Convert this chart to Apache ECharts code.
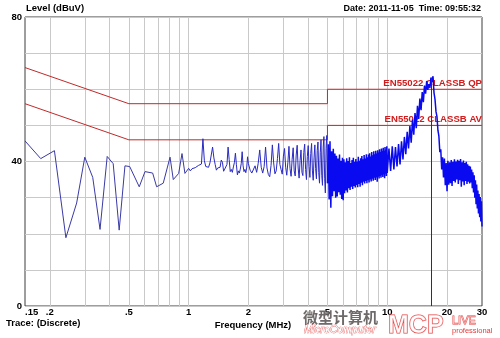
<!DOCTYPE html>
<html>
<head>
<meta charset="utf-8">
<script src="https://cdn.jsdelivr.net/npm/echarts@6/dist/echarts.min.js"></script>
<style>
html,body{margin:0;padding:0;background:#fff}
#chart{width:500px;height:338px}
</style>
</head>
<body>
<div id="chart"></div>
<script>
const FONT = '"Liberation Sans", Arial, Helvetica, sans-serif';

// Receiver sweep, one array per band: [frequency MHz, level dBuV]
const sweepLow = [
  [0.150,45.7],[0.180,40.8],[0.211,43.0],[0.241,18.9],[0.273,28.5],[0.300,41.2],
  [0.329,35.6],[0.358,21.2],[0.389,41.4],[0.417,39.4],[0.447,21.0],[0.478,38.8],
  [0.505,38.6],[0.564,33.0],[0.603,37.2],[0.659,36.8],[0.690,33.0],[0.745,34.0],
  [0.806,41.2],[0.837,35.0],[0.891,36.7],[0.926,42.2],[0.958,36.7],[1.000,38.1]
];

const sweepMid = [
  [1.00,38.1],[1.02,37.4],[1.04,38.0],[1.06,37.6],[1.08,38.3],[1.10,38.6],[1.12,38.9],
  [1.14,39.0],[1.16,39.3],[1.18,46.3],[1.20,40.2],[1.22,38.6],[1.24,38.9],[1.26,38.4],
  [1.28,39.6],[1.30,41.8],[1.32,44.0],[1.34,41.0],[1.36,39.2],[1.38,37.6],[1.40,38.2],
  [1.42,37.8],[1.44,38.4],[1.46,40.4],[1.48,39.8],[1.50,37.3],[1.52,37.9],[1.54,37.5],
  [1.56,39.2],[1.58,44.0],[1.60,40.5],[1.62,37.2],[1.64,37.8],[1.66,37.0],[1.68,38.5],
  [1.70,39.7],[1.72,42.3],[1.74,39.1],[1.76,36.3],[1.78,37.4],[1.80,36.8],[1.82,37.9],
  [1.84,39.4],[1.86,42.7],[1.88,38.8],[1.90,37.2],[1.92,37.8],[1.94,36.9],[1.96,38.2],
  [1.98,41.3],[2.00,39.4],
  [2.04,37.6],[2.08,36.8],[2.12,37.2],[2.16,38.8],[2.20,37.0],[2.24,39.5],[2.28,43.2],
  [2.32,38.4],[2.36,36.8],[2.40,38.6],[2.44,44.0],[2.48,38.2],[2.52,36.4],[2.56,35.8],
  [2.60,38.9],[2.64,44.6],[2.68,39.6],[2.72,36.6],[2.76,37.4],[2.80,40.8],[2.84,45.0],
  [2.88,39.2],[2.92,37.8],[2.96,36.5],[3.00,41.5],[3.04,43.6],[3.08,38.4],[3.12,36.2],
  [3.16,39.8],[3.20,44.2],[3.24,38.0],[3.28,35.9],[3.32,40.6],[3.36,43.8],[3.40,37.4],
  [3.44,36.0],[3.48,41.8],[3.52,44.5],[3.56,38.2],[3.60,35.4],[3.64,40.2],[3.68,43.2],
  [3.72,37.0],[3.76,36.1],[3.80,42.5],[3.84,44.8],[3.88,37.8],[3.92,35.0],[3.96,41.4],
  [4.00,44.4],[4.04,38.6],[4.08,35.6],[4.12,42.2],[4.16,45.0],[4.20,37.4],[4.24,34.8],
  [4.28,41.0],[4.32,44.6],[4.36,38.0],[4.40,35.2],[4.44,43.0],[4.48,45.4],[4.52,36.9],
  [4.56,34.0],[4.60,42.4],[4.64,46.0],[4.68,36.2],[4.72,33.4],[4.76,44.0],[4.80,46.9],
  [4.84,35.2],[4.88,31.3],[4.92,43.6],[4.96,47.2],[5.00,34.0]
];

const sweepHigh = [
  [5.00,34.0],
  [5.05,44.8],[5.10,29.5],[5.15,45.6],[5.20,27.2],[5.25,42.8],[5.30,30.4],[5.35,43.5],
  [5.40,31.8],[5.45,42.2],[5.50,30.0],[5.55,41.6],[5.60,30.3],[5.65,40.8],[5.70,31.5],
  [5.75,41.9],[5.80,30.8],[5.85,40.2],[5.90,29.6],[5.95,41.0],[6.00,29.3],[6.05,40.6],
  [6.10,31.2],[6.15,39.8],[6.20,32.0],[6.25,40.9],[6.30,31.4],[6.35,40.1],[6.40,32.6],
  [6.45,41.2],[6.50,32.1],[6.55,39.6],[6.60,33.0],[6.65,40.4],[6.70,32.4],[6.75,41.0],
  [6.80,33.2],[6.85,39.9],[6.90,32.8],[6.95,40.7],[7.00,33.5],[7.05,40.0],[7.10,32.9],
  [7.15,41.3],[7.20,33.8],[7.25,40.2],[7.30,33.0],[7.35,40.9],[7.40,34.1],[7.45,41.5],
  [7.50,33.4],[7.55,40.6],[7.60,34.4],[7.65,41.8],[7.70,33.9],[7.75,40.8],[7.80,34.6],
  [7.85,42.0],[7.90,34.0],[7.95,41.2],[8.00,34.8],[8.05,41.9],[8.10,34.2],[8.15,42.3],
  [8.20,35.0],[8.25,41.4],[8.30,34.5],[8.35,42.6],[8.40,35.2],[8.45,41.7],[8.50,34.7],
  [8.55,42.8],[8.60,35.5],[8.65,42.0],[8.70,34.9],[8.75,43.0],[8.80,35.6],[8.85,42.2],
  [8.90,34.4],[8.95,43.1],[9.00,35.8],[9.05,42.5],[9.10,35.3],[9.15,43.4],[9.20,36.0],
  [9.25,42.6],[9.30,35.5],[9.35,43.6],[9.40,36.2],[9.45,42.9],[9.50,35.7],[9.55,43.8],
  [9.60,36.4],[9.65,43.0],[9.70,35.4],[9.75,44.0],[9.80,36.6],[9.85,43.3],[9.90,36.0],
  [9.95,44.2],[10.00,36.8],
  [10.2,43.6],[10.4,37.4],[10.6,44.2],[10.8,37.8],[11.0,44.0],[11.2,38.6],[11.4,44.8],
  [11.6,39.2],[11.8,45.6],[12.0,40.6],[12.2,46.8],[12.4,42.0],[12.6,48.2],[12.8,43.6],
  [13.0,49.8],[13.2,45.2],[13.4,51.6],[13.6,47.4],[13.8,53.4],[14.0,49.2],[14.2,55.4],
  [14.4,51.8],[14.6,57.4],[14.8,54.2],[15.0,59.2],[15.2,56.4],[15.4,61.0],[15.6,58.8],
  [15.8,62.3],[16.0,59.8],[16.2,61.4],[16.4,60.4],[16.6,63.2],[16.8,62.0],[17.0,63.6],
  [17.2,59.0],[17.4,57.2],[17.6,53.8],[17.8,52.4],[18.0,48.6],[18.2,47.0],[18.4,42.6],
  [18.6,43.4],[18.8,37.8],[19.0,41.2],[19.2,35.6],[19.4,40.8],[19.6,33.4],[19.8,39.6],
  [20.0,31.8],[20.2,40.2],[20.4,33.6],[20.6,39.8],[20.8,34.0],[21.0,40.4],[21.2,33.2],
  [21.4,39.9],[21.6,34.6],[21.8,40.6],[22.0,34.2],[22.2,40.0],[22.4,35.0],[22.6,40.5],
  [22.8,33.8],[23.0,40.2],[23.2,34.8],[23.4,40.7],[23.6,33.0],[23.8,39.8],[24.0,34.5],
  [24.2,40.3],[24.4,33.4],[24.6,39.6],[24.8,34.6],[25.0,39.9],[25.2,33.8],[25.4,39.2],
  [25.6,34.4],[25.8,38.8],[26.0,33.9],[26.2,38.6],[26.4,34.2],[26.6,37.8],[26.8,32.6],
  [27.0,37.0],[27.2,31.4],[27.4,36.2],[27.6,30.0],[27.8,34.8],[28.0,28.2],[28.2,33.6],
  [28.4,27.0],[28.6,32.0],[28.8,25.6],[29.0,31.0],[29.2,24.6],[29.4,30.2],[29.6,23.4],
  [29.8,29.0],[30.0,22.0]
];

// EN 55022 class B limits (quasi-peak and average)
const limitQP = [[0.15,66],[0.5,56],[5,56],[5,60],[30,60]];
const limitAV = [[0.15,56],[0.5,46],[5,46],[5,50],[30,50]];
const limitQPName = 'EN55022 CLASSB QP';
const limitAVName = 'EN55022 CLASSB AV';

// Marker on the strongest emission
const marker = [16.6, 63.2];

// Log-grid lines and the frequency labels shown below them
const gridFreqs = [0.15,0.2,0.3,0.4,0.5,0.6,0.7,0.8,0.9,1,2,3,4,5,6,7,8,9,10,20,30];
const freqTickLabels = {0.15:'.15',0.2:'.2',0.5:'.5',1:'1',2:'2',5:'5',10:'10',20:'20',30:'30'};
const levelTickLabels = [0, 40, 80];

const GRID_COLOR = '#c9c9c9';
const LIMIT_COLOR = '#c02a2a';

const chart = echarts.init(document.getElementById('chart'), null, {renderer: 'canvas'});

const gridLineData = gridFreqs.map(f => {
  const item = {xAxis: f};
  if (f === gridFreqs[0] || f === gridFreqs[gridFreqs.length - 1]) {
    // the frame already draws these edges
    item.lineStyle = {color: 'rgba(0,0,0,0)'};
  }
  if (freqTickLabels[f] !== undefined) {
    item.label = {
      show: true,
      formatter: freqTickLabels[f],
      align: f === gridFreqs[0] ? 'left' : 'center'
    };
  }
  return item;
});

function limitSeries(name, data, labelText) {
  const last = data[data.length - 1];
  return {
    name: name,
    type: 'line',
    data: data,
    z: 3,
    symbol: 'none',
    silent: true,
    lineStyle: {color: LIMIT_COLOR, width: 1},
    markPoint: {
      symbol: 'circle',
      symbolSize: 0,
      silent: true,
      z: 4,
      label: {
        show: true,
        position: 'top',
        align: 'right',
        distance: 1,
        color: '#d01c1c',
        fontFamily: FONT,
        fontWeight: 'bold',
        fontSize: 9.6,
        formatter: labelText
      },
      data: [{coord: last}]
    }
  };
}

function traceSeries(name, data, color, width, extra) {
  return Object.assign({
    name: name,
    type: 'line',
    data: data,
    z: 10,
    symbol: 'none',
    silent: true,
    lineStyle: {color: color, width: width}
  }, extra || {});
}

const labelFont = {fontFamily: FONT, fontWeight: 'bold', fontSize: 9.5, color: '#000'};

chart.setOption({
  animation: false,
  backgroundColor: '#fff',
  grid: {
    left: 25, right: 18, top: 17, bottom: 32,
    show: true, borderColor: '#3c3c3c', borderWidth: 1, backgroundColor: '#fff'
  },
  xAxis: {
    type: 'log', logBase: 10, min: 0.15, max: 30,
    axisLine: {show: false}, axisTick: {show: false},
    axisLabel: {show: false}, splitLine: {show: false}
  },
  yAxis: {
    type: 'value', min: 0, max: 80, interval: 10,
    axisLine: {show: false}, axisTick: {show: false},
    splitLine: {show: true, lineStyle: {color: GRID_COLOR, width: 1}},
    axisLabel: Object.assign({
      margin: 3,
      formatter: v => levelTickLabels.indexOf(v) >= 0 ? String(v) : ''
    }, labelFont)
  },
  series: [
    {
      name: 'grid',
      type: 'line',
      data: [],
      silent: true,
      markLine: {
        silent: true,
        z: 1,
        symbol: ['none', 'none'],
        lineStyle: {color: GRID_COLOR, width: 1, type: 'solid'},
        label: Object.assign({show: false, position: 'start', distance: 1}, labelFont),
        data: gridLineData
      }
    },
    limitSeries('QP limit', limitQP, limitQPName),
    limitSeries('AV limit', limitAV, limitAVName),
    traceSeries('Trace 150k-1M', sweepLow, '#3a3aa4', 1),
    traceSeries('Trace 1M-5M', sweepMid, '#2a2ac4', 1),
    traceSeries('Trace 5M-30M', sweepHigh, '#0a0af0', 1.5, {
      markLine: {
        silent: true,
        z: 12,
        symbol: ['none', 'none'],
        lineStyle: {color: '#333', width: 1, type: 'solid'},
        label: {show: false},
        data: [[{coord: marker}, {coord: [marker[0], 0]}]]
      }
    })
  ],
  graphic: [
    {type: 'text', x: 26, y: 8, style: {text: 'Level (dBuV)', font: 'bold 9.5px ' + FONT, fill: '#000', verticalAlign: 'middle'}},
    {type: 'text', x: 481, y: 9, style: {text: 'Date: 2011-11-05  Time: 09:55:32', font: 'bold 9px ' + FONT, fill: '#000', align: 'right', verticalAlign: 'middle'}},
    {type: 'text', x: 253, y: 325, style: {text: 'Frequency (MHz)', font: 'bold 9.5px ' + FONT, fill: '#000', align: 'center', verticalAlign: 'middle'}},
    {type: 'text', x: 6, y: 323, style: {text: 'Trace: (Discrete)', font: 'bold 9.5px ' + FONT, fill: '#000', verticalAlign: 'middle'}},
    {type: 'text', x: 303, y: 317, z: 20, style: {text: '微型计算机', font: 'bold 15px "Noto Sans CJK SC", sans-serif', fill: '#6f6a6a', verticalAlign: 'middle'}},
    {type: 'text', x: 304, y: 330, z: 20, style: {text: 'MicroComputer', font: 'italic 10.5px ' + FONT, fill: '#fff', stroke: '#e03030', lineWidth: 0.6, verticalAlign: 'middle'}},
    {type: 'text', x: 388, y: 326, z: 20, style: {text: 'MCP', font: 'bold 25px ' + FONT, fill: 'rgba(255,255,255,0.6)', stroke: '#e43a3a', lineWidth: 1, verticalAlign: 'middle'}},
    {type: 'text', x: 452, y: 321, z: 20, style: {text: 'LIVE', font: '11px ' + FONT, fill: 'rgba(255,255,255,0.6)', stroke: '#e43a3a', lineWidth: 0.8, verticalAlign: 'middle'}},
    {type: 'text', x: 452, y: 331, z: 20, style: {text: 'professional', font: '7.5px ' + FONT, fill: '#e43a3a', verticalAlign: 'middle'}}
  ]
});
</script>
</body>
</html>
